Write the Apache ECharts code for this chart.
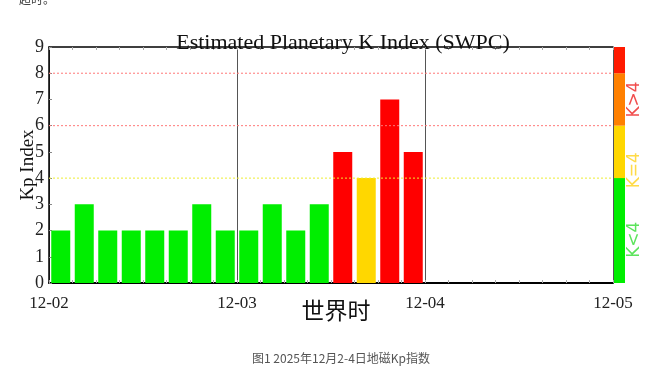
<!DOCTYPE html>
<html><head><meta charset="utf-8">
<script src="https://cdn.jsdelivr.net/npm/echarts@6/dist/echarts.min.js"></script>
<style>html,body{margin:0;padding:0;background:#fff}#c{width:672px;height:381px}</style>
</head><body><div id="c"></div>
<script>
// 3-hour intervals, 12-02 00:00 UT .. 12-05 00:00 UT
var slots = [];
for (var i = 0; i < 24; i++) slots.push('s' + i);
var kpValues = [2,3,2,2,2,2,3,2, 2,3,2,3,5,4,7,5];
var dayLabels = ['12-02','12-03','12-04','12-05'];
var yTicks = [0,1,2,3,4,5,6,7,8,9];
var scaleSegments = [4,2,2,1];
var scaleColors = ['#00ee00','#ffd700','#ff8000','#ff1a00'];
var scaleTextNames = ['K<4','K=4','K>4'];
var scaleTextPos = [1.65,4.3,7.0];
var scaleTextColors = ['#33dd33','#ffd21a','#ee2020'];
var guideLines = [4,6,8];
var guideColors = ['#eeee30','#ff7878','#ff7878'];

function barColor(v){ return v < 4 ? '#00ee00' : (v === 4 ? '#ffd700' : '#ff0000'); }

var serif = '"Liberation Serif","DejaVu Serif",serif';
var chart = echarts.init(document.getElementById('c'), null, {renderer:'canvas'});
var noSplit = {show:false};

var scaleSeries = scaleSegments.map(function(v, i){
  return {type:'bar', xAxisIndex:3, yAxisIndex:1, stack:'scale', barWidth:'100%',
    data:[v], itemStyle:{color:scaleColors[i]}, silent:true};
});

// horizontal guide lines spanning the whole day range (value x-axis 0..3)
var guideSeries = guideLines.map(function(y, i){
  return {type:'line', xAxisIndex:1, yAxisIndex:0, silent:true, z:5,
    symbol:'none', showSymbol:false, color:guideColors[i],
    lineStyle:{type:[2,2], color:guideColors[i], width:1},
    data:[[0, y], [dayLabels.length - 1, y]]};
});

chart.setOption({
  animation:false,
  backgroundColor:'#fff',
  title:[
    {text:'Estimated Planetary K Index (SWPC)', left:338, top:27, textAlign:'center',
     textStyle:{fontFamily:serif, fontSize:22, fontWeight:'normal', color:'#111'}},
    {text:'世界时', left:331, top:294, textAlign:'center',
     textStyle:{fontFamily:'"Noto Sans CJK SC",sans-serif', fontSize:23, fontWeight:'normal', color:'#111'}},
    {text:'图1 2025年12月2-4日地磁Kp指数', left:336, top:347, textAlign:'center',
     textStyle:{fontFamily:'"Noto Sans CJK SC",sans-serif', fontSize:12, fontWeight:'normal', color:'#555'}},
    {text:'超时。', left:14, top:-12,
     textStyle:{fontFamily:'"Noto Sans CJK SC",sans-serif', fontSize:12, fontWeight:'normal', color:'#444'}}
  ],
  grid:[
    {left:49, right:59, top:47, bottom:98, show:false, containLabel:false, outerBoundsMode:'none'},
    {left:614, width:11, top:47, bottom:98, show:false, containLabel:false, outerBoundsMode:'none'},
    {left:626, width:18, top:47, bottom:98, show:false, containLabel:false, outerBoundsMode:'none'}
  ],
  xAxis:[
    {type:'category', data:slots, gridIndex:0, position:'bottom', boundaryGap:true,
     axisLine:{lineStyle:{color:'#000', width:2}},
     axisTick:{show:true, inside:true, length:3, interval:0, lineStyle:{color:'#aaa'}},
     axisLabel:{show:false}, splitLine:noSplit},
    {type:'value', gridIndex:0, min:0, max:3, interval:1, position:'bottom',
     axisLine:{show:false}, axisTick:{show:false},
     axisLabel:{margin:12, fontFamily:serif, fontSize:17, color:'#222',
       formatter:function(v){ return dayLabels[Math.round(v)]; }},
     splitLine:{show:true, lineStyle:{color:'#555', width:1}}},
    {type:'category', data:slots, gridIndex:0, position:'top', boundaryGap:true,
     axisLine:{lineStyle:{color:'#000', width:1.5}},
     axisTick:{show:true, inside:true, length:3, interval:0, lineStyle:{color:'#aaa'}},
     axisLabel:{show:false}, splitLine:noSplit},
    {type:'category', data:['k'], gridIndex:1, show:false, splitLine:noSplit},
    {type:'category', data:['t'], gridIndex:2, show:false, splitLine:noSplit}
  ],
  yAxis:[
    {type:'value', gridIndex:0, min:0, max:9, interval:1,
     name:'Kp Index', nameLocation:'middle', nameGap:11, nameRotate:90, nameMoveOverlap:false,
     nameTextStyle:{fontFamily:serif, fontSize:19, color:'#111'},
     axisLine:{show:true, lineStyle:{color:'#000', width:1.5}},
     axisTick:{show:true, inside:true, length:3, lineStyle:{color:'#888'}},
     axisLabel:{margin:5, fontFamily:serif, fontSize:18, color:'#222',
       formatter:function(v){ return yTicks.indexOf(v) >= 0 ? String(v) : ''; }},
     splitLine:noSplit},
    {type:'value', gridIndex:1, min:0, max:9, show:false, splitLine:noSplit},
    {type:'value', gridIndex:2, min:0, max:9, show:false, splitLine:noSplit}
  ],
  series:[
    {type:'bar', xAxisIndex:0, yAxisIndex:0, barWidth:19,
     data:kpValues.map(function(v){ return {value:v, itemStyle:{color:barColor(v)}}; })}
  ].concat(guideSeries).concat(scaleSeries).concat([
    {type:'scatter', xAxisIndex:4, yAxisIndex:2, symbolSize:0, silent:true,
     data:scaleTextNames.map(function(n, i){
       return {value:[0, scaleTextPos[i]], name:n,
         label:{show:true, formatter:n, position:'inside', rotate:90,
           color:scaleTextColors[i], fontSize:17, fontFamily:'"DejaVu Sans",sans-serif'}};
     })}
  ])
});
</script></body></html>
